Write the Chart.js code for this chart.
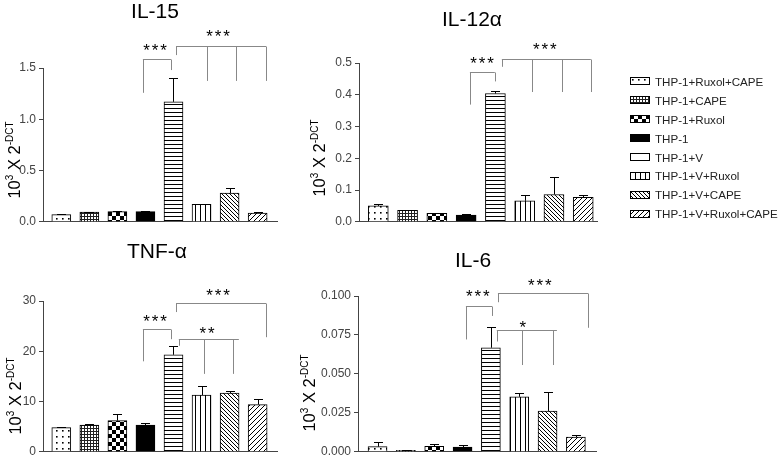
<!DOCTYPE html>
<html>
<head>
<meta charset="utf-8">
<script src="https://cdn.jsdelivr.net/npm/chart.js@4.4.1/dist/chart.umd.min.js"></script>
<style>
  body { margin: 0; background: #fff; }
  #wrap { position: relative; width: 778px; height: 462px; overflow: hidden; font-family: Arial, "Liberation Sans", sans-serif; }
  .panel { position: absolute; width: 300px; height: 232px; }
  #legend { position: absolute; left: 630px; top: 72px; }
  .item { height: 18.9px; display: flex; align-items: center; font-size: 11.6px; color: #222; white-space: nowrap; }
  .item canvas { margin-right: 5px; }
</style>
</head>
<body>
<div id="wrap">
  <div class="panel" style="left:0;top:0"><canvas id="c1"></canvas></div>
  <div class="panel" style="left:300px;top:0"><canvas id="c2"></canvas></div>
  <div class="panel" style="left:0;top:230px"><canvas id="c3"></canvas></div>
  <div class="panel" style="left:300px;top:230px"><canvas id="c4"></canvas></div>
  <div id="legend"></div>
</div>
<script>
// groups, in bar order
const categories = ['THP-1+Ruxol+CAPE', 'THP-1+CAPE', 'THP-1+Ruxol', 'THP-1', 'THP-1+V',
  'THP-1+V+Ruxol', 'THP-1+V+CAPE', 'THP-1+V+Ruxol+CAPE'];

// means and error (upper whisker length)
const il15 = [0.07, 0.094, 0.10, 0.10, 1.17, 0.17, 0.28, 0.085];
const il15Err = [0.01, 0.005, 0.005, 0.004, 0.23, 0.004, 0.05, 0.015];
const il12 = [0.05, 0.036, 0.027, 0.021, 0.404, 0.066, 0.086, 0.077];
const il12Err = [0.006, 0.002, 0.002, 0.002, 0.007, 0.017, 0.054, 0.008];
const tnf = [4.8, 5.3, 6.2, 5.3, 19.3, 11.3, 11.7, 9.4];
const tnfErr = [0.15, 0.3, 1.4, 0.4, 1.8, 1.7, 0.4, 1.1];
const il6 = [0.0033, 0.001, 0.0035, 0.003, 0.0668, 0.0353, 0.0262, 0.0094];
const il6Err = [0.0027, 0.0002, 0.0015, 0.0015, 0.0132, 0.0027, 0.0122, 0.0016];

// y tick labels
const il15Ticks = ['0.0', '0.5', '1.0', '1.5'];
const il12Ticks = ['0.0', '0.1', '0.2', '0.3', '0.4', '0.5'];
const tnfTicks = ['0', '10', '20', '30'];
const il6Ticks = ['0.000', '0.025', '0.050', '0.075', '0.100'];

const axisColor = '#444';
const FONT = 'Arial, "Liberation Sans", sans-serif';

// fill patterns
function tile(w, h, draw) {
  const c = document.createElement('canvas');
  c.width = w; c.height = h;
  const g = c.getContext('2d');
  g.fillStyle = '#fff'; g.fillRect(0, 0, w, h);
  g.fillStyle = '#000';
  draw(g);
  return g.createPattern(c, 'repeat');
}
const fills = [
  tile(6, 6, g => g.fillRect(2, 2, 1.6, 1.6)),
  tile(3, 3, g => { g.fillStyle = '#222'; g.fillRect(0, 0, 3, 1); g.fillRect(0, 0, 1, 3); }),
  tile(8, 8, g => { g.fillRect(0, 0, 4, 4); g.fillRect(4, 4, 4, 4); }),
  '#000',
  tile(1, 4, g => g.fillRect(0, 0, 1, 1)),
  tile(5, 1, g => g.fillRect(0, 0, 1, 1)),
  tile(4, 4, g => { for (let i = 0; i < 4; i++) g.fillRect(i, i, 1, 1); }),
  tile(5, 5, g => { for (let i = 0; i < 5; i++) g.fillRect(4 - i, i, 1, 1); })
];

// draws error bars, significance brackets, title and y axis label
const extras = {
  id: 'extras',
  afterDatasetsDraw(chart, args, o) {
    const ctx = chart.ctx, xs = chart.scales.x, ys = chart.scales.y;
    const meta = chart.getDatasetMeta(0);
    ctx.save();
    ctx.lineWidth = 1;
    ctx.strokeStyle = '#000';
    o.values.forEach((v, i) => {
      const px = Math.round(meta.data[i].x) + 0.5;
      const top = ys.getPixelForValue(v);
      const end = Math.round(ys.getPixelForValue(v + o.errors[i])) + 0.5;
      ctx.beginPath();
      ctx.moveTo(px, top); ctx.lineTo(px, end);
      ctx.moveTo(px - 4.5, end); ctx.lineTo(px + 4.5, end);
      ctx.stroke();
    });
    ctx.strokeStyle = '#888';
    o.brackets.forEach(b => {
      const yy = Math.round(ys.getPixelForValue(b.y)) + 0.5;
      ctx.beginPath();
      ctx.moveTo(xs.getPixelForValue(b.x1), yy);
      ctx.lineTo(xs.getPixelForValue(b.x2), yy);
      b.legs.forEach(l => {
        const lx = Math.round(xs.getPixelForValue(l[0])) + 0.5;
        ctx.moveTo(lx, yy);
        ctx.lineTo(lx, ys.getPixelForValue(l[1]));
      });
      ctx.stroke();
    });
    ctx.fillStyle = '#000';
    ctx.font = '17px ' + FONT;
    ctx.textAlign = 'center';
    ctx.textBaseline = 'alphabetic';
    o.stars.forEach(s => {
      const cx = xs.getPixelForValue(s[0]), cy = ys.getPixelForValue(s[1]) + 9;
      for (let k = 0; k < s[2]; k++) ctx.fillText('*', cx + (k - (s[2] - 1) / 2) * 8.5, cy);
    });
    // title
    ctx.fillStyle = '#000';
    ctx.font = '21px ' + FONT;
    ctx.fillText(o.title, o.titleAt[0], o.titleAt[1]);
    // y axis label: 10^3 X 2^-DCT
    const parts = [['10', 16.5, 0], ['3', 10, 7], [' X 2', 16.5, 0], ['-DCT', 10, 7]];
    let total = 0;
    parts.forEach(p => { ctx.font = p[1] + 'px ' + FONT; total += ctx.measureText(p[0]).width; });
    ctx.translate(o.labelAt[0], o.labelAt[1]);
    ctx.rotate(-Math.PI / 2);
    ctx.textAlign = 'left';
    let pos = -total / 2;
    parts.forEach(p => {
      ctx.font = p[1] + 'px ' + FONT;
      ctx.fillText(p[0], pos, -p[2]);
      pos += ctx.measureText(p[0]).width;
    });
    ctx.restore();
  }
};

function panel(id, values, errors, ticks, step, box, extra) {
  const max = step * (ticks.length - 1);
  new Chart(document.getElementById(id), {
    type: 'bar',
    data: {
      labels: categories,
      datasets: [{
        data: values.map((v, i) => ({ x: i + 1, y: v })),
        backgroundColor: fills,
        borderColor: '#000',
        borderWidth: 1,
        barThickness: box.bar
      }]
    },
    options: {
      responsive: true,
      maintainAspectRatio: false,
      animation: false,
      layout: { padding: { left: 0, top: box.top, right: 300 - box.right, bottom: 232 - box.bottom } },
      plugins: {
        legend: { display: false },
        tooltip: { callbacks: { title: items => categories[items[0].dataIndex] } },
        extras: Object.assign({ values, errors }, extra)
      },
      scales: {
        x: {
          type: 'linear', min: box.xMin, max: box.xMax, offset: false,
          ticks: { display: false },
          grid: { display: false, drawTicks: false },
          border: { color: axisColor, width: 1 },
          afterFit: s => { s.height = 0; }
        },
        y: {
          min: 0, max: max,
          ticks: { stepSize: step, color: axisColor, font: { size: 12, family: FONT }, padding: 3,
            callback: (v, i) => ticks[i] },
          grid: { drawOnChartArea: false, drawTicks: true, tickLength: 4, color: axisColor },
          border: { color: axisColor, width: 1 },
          afterFit: s => { s.width = box.left; }
        }
      }
    },
    plugins: [extras]
  });
}

panel('c1', il15, il15Err, il15Ticks, 0.5,
  { left: 43, right: 277, top: 68, bottom: 223, xMin: 0.348, xMax: 8.69, bar: 19 },
  { title: 'IL-15', titleAt: [155, 18], labelAt: [20, 160],
    brackets: [
      { x1: 3.91, x2: 4.91, y: 1.587, legs: [[3.91, 1.258], [4.91, 1.48]] },
      { x1: 5.09, x2: 8.30, y: 1.713, legs: [[5.09, 1.626], [6.19, 1.374], [7.23, 1.374], [8.30, 1.374]] }
    ],
    stars: [[4.34, 1.70, 3], [6.59, 1.84, 3]] });

panel('c2', il12, il12Err, il12Ticks, 0.1,
  { left: 59, right: 297, top: 63, bottom: 227, xMin: 0.341, xMax: 8.47, bar: 20 },
  { title: 'IL-12\u03b1', titleAt: [172, 26], labelAt: [25, 158],
    brackets: [
      { x1: 4.13, x2: 4.98, y: 0.4726, legs: [[4.13, 0.369], [4.98, 0.442]] },
      { x1: 5.22, x2: 8.26, y: 0.512, legs: [[5.22, 0.488], [6.25, 0.4086], [7.27, 0.4086], [8.26, 0.4086]] }
    ],
    stars: [[4.54, 0.509, 3], [6.69, 0.552, 3]] });

panel('c3', tnf, tnfErr, tnfTicks, 10,
  { left: 43, right: 277, top: 71, bottom: 226, xMin: 0.348, xMax: 8.69, bar: 19 },
  { title: 'TNF-\u03b1', titleAt: [157, 28], labelAt: [21, 166],
    brackets: [
      { x1: 3.91, x2: 4.91, y: 24.5, legs: [[3.91, 18.0], [4.91, 22.4]] },
      { x1: 5.09, x2: 8.30, y: 29.6, legs: [[5.09, 27.8], [8.30, 22.8]] },
      { x1: 5.19, x2: 7.33, y: 22.4, legs: [[5.19, 21.1], [6.09, 15.5], [7.12, 15.5]] }
    ],
    stars: [[4.34, 26.7, 3], [6.59, 31.7, 3], [6.20, 24.3, 2]] });

panel('c4', il6, il6Err, il6Ticks, 0.025,
  { left: 58, right: 296, top: 66, bottom: 224, xMin: 0.31, xMax: 8.71, bar: 19 },
  { title: 'IL-6', titleAt: [173, 37], labelAt: [15, 163],
    brackets: [
      { x1: 4.12, x2: 5.04, y: 0.0935, legs: [[4.12, 0.0721], [5.04, 0.0872]] },
      { x1: 5.25, x2: 8.43, y: 0.1017, legs: [[5.25, 0.096], [8.43, 0.0796]] },
      { x1: 5.21, x2: 7.33, y: 0.0783, legs: [[5.21, 0.0708], [6.10, 0.0557], [7.19, 0.0557]] }
    ],
    stars: [[4.54, 0.1017, 3], [6.73, 0.1093, 3], [6.13, 0.0821, 1]] });

// legend with pattern swatches
const legendEl = document.getElementById('legend');
categories.forEach((name, i) => {
  const row = document.createElement('div');
  row.className = 'item';
  const sw = document.createElement('canvas');
  sw.width = 20; sw.height = 8;
  const g = sw.getContext('2d');
  g.fillStyle = i === 4 ? '#fff' : fills[i];
  g.fillRect(0, 0, 20, 8);
  g.strokeStyle = '#000';
  g.strokeRect(0.5, 0.5, 19, 7);
  row.appendChild(sw);
  row.appendChild(document.createTextNode(name));
  legendEl.appendChild(row);
});
</script>
</body>
</html>
